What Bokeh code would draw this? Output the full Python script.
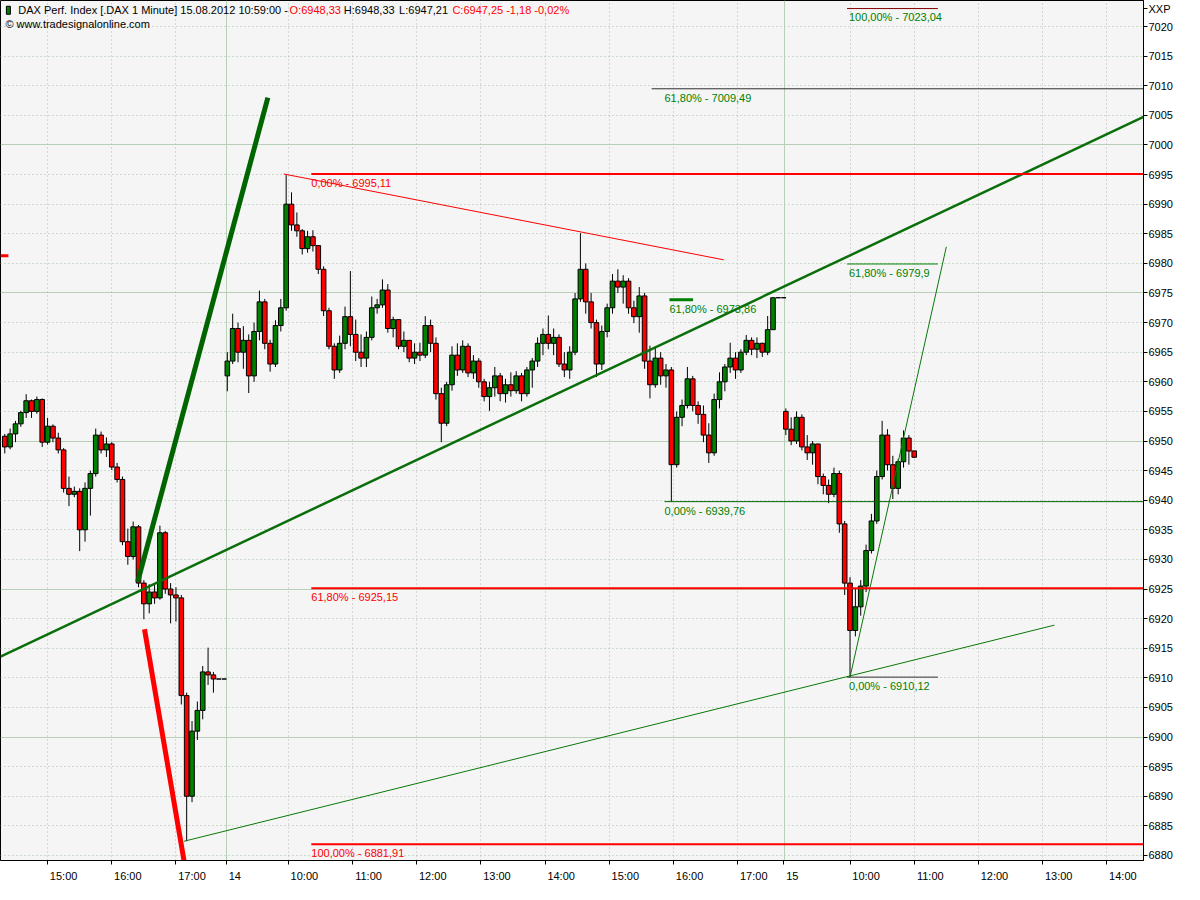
from bokeh.plotting import figure
from bokeh.models import Range1d, LinearAxis, FixedTicker, Grid, Label, ColumnDataSource
from bokeh.embed import file_html
from bokeh.resources import INLINE

# ---------------- data ----------------
# time = trading minutes counted from 13.08.2012 09:00 (a session 09:00-17:45 = 525 min); 5-minute bars
d13_t = list(range(320, 526, 5))
d13_o = [6950.8, 6949.0, 6951.2, 6952.9, 6954.8, 6956.8, 6955.0, 6957.0, 6949.8, 6952.5,
         6950.5, 6948.5, 6942.0, 6941.0, 6941.5, 6935.0, 6942.0, 6944.5, 6951.0, 6948.5,
         6949.5, 6945.6, 6943.5, 6933.0, 6930.5, 6935.5, 6926.0, 6922.5, 6924.5, 6923.5,
         6934.5, 6925.0, 6924.0, 6923.5, 6907.0, 6890.0, 6901.0, 6904.5, 6911.0, 6910.5,
         6909.8, 6909.8]
d13_h = [6951.2, 6952.1, 6953.4, 6955.1, 6957.9, 6957.0, 6957.5, 6957.2, 6953.9, 6952.8,
         6951.4, 6948.8, 6944.0, 6942.3, 6942.0, 6943.0, 6945.0, 6952.1, 6951.6, 6950.6,
         6949.8, 6946.3, 6944.0, 6935.2, 6936.4, 6935.8, 6926.5, 6925.8, 6925.8, 6935.7,
         6934.8, 6926.0, 6925.3, 6924.0, 6907.5, 6902.7, 6906.0, 6912.0, 6915.1, 6911.0,
         6909.8, 6909.8]
d13_l = [6947.9, 6948.6, 6949.8, 6952.4, 6953.9, 6953.9, 6954.6, 6949.0, 6949.4, 6949.8,
         6947.9, 6941.3, 6939.0, 6940.5, 6931.4, 6933.0, 6937.4, 6944.0, 6947.9, 6947.3,
         6945.1, 6943.0, 6932.4, 6929.1, 6930.0, 6925.3, 6919.9, 6920.9, 6922.5, 6923.2,
         6924.2, 6919.2, 6919.5, 6905.5, 6882.4, 6889.0, 6899.5, 6903.0, 6908.8, 6907.5,
         6909.8, 6909.8]
d13_c = [6949.0, 6951.2, 6952.9, 6954.8, 6956.8, 6955.0, 6957.0, 6949.8, 6952.5, 6950.5,
         6948.5, 6942.0, 6941.0, 6941.5, 6935.0, 6942.0, 6944.5, 6951.0, 6948.5, 6949.5,
         6945.6, 6943.5, 6933.0, 6930.5, 6935.5, 6926.0, 6922.5, 6924.5, 6923.5, 6934.5,
         6925.0, 6924.0, 6923.5, 6907.0, 6890.0, 6901.0, 6904.5, 6911.0, 6910.5, 6909.8,
         6909.8, 6909.8]

d14_t = list(range(528, 1049, 5))
d14_o = [6961.0, 6963.5, 6969.0, 6965.0, 6967.0, 6961.0, 6968.5, 6973.5, 6966.5, 6963.0,
         6969.5, 6972.5, 6990.0, 6986.5, 6985.5, 6982.5, 6984.5, 6983.0, 6979.0, 6972.0,
         6966.0, 6962.0, 6966.5, 6971.0, 6968.0, 6965.0, 6964.0, 6967.5, 6972.5, 6973.0,
         6975.5, 6969.0, 6970.5, 6966.0, 6967.0, 6964.0, 6965.0, 6964.5, 6969.5, 6966.5,
         6958.0, 6953.0, 6959.5, 6964.5, 6962.0, 6966.0, 6961.5, 6963.5, 6960.0, 6957.5,
         6959.0, 6961.0, 6958.0, 6959.5, 6958.5, 6961.0, 6958.0, 6962.0, 6963.5, 6966.5,
         6968.0, 6966.5, 6967.5, 6963.0, 6962.0, 6965.0, 6974.0, 6979.0, 6973.5, 6970.0,
         6963.0, 6968.5, 6972.5, 6977.0, 6976.0, 6977.0, 6972.5, 6971.0, 6974.5, 6963.5,
         6959.5, 6964.0, 6961.0, 6962.0, 6946.0, 6954.0, 6956.0, 6960.5, 6956.0, 6954.5,
         6951.0, 6948.0, 6957.0, 6960.0, 6962.5, 6964.0, 6962.0, 6965.0, 6967.0, 6965.5,
         6966.5, 6965.0, 6968.8, 6974.2, 6974.2]
d14_h = [6965.0, 6971.5, 6970.0, 6969.4, 6968.0, 6970.0, 6975.4, 6974.0, 6967.1, 6970.4,
         6974.0, 6994.9, 6992.0, 6988.6, 6985.8, 6985.5, 6985.6, 6983.0, 6979.5, 6972.5,
         6966.5, 6967.8, 6972.7, 6978.7, 6970.5, 6968.0, 6968.5, 6974.4, 6974.0, 6977.3,
         6976.5, 6971.0, 6970.5, 6968.5, 6967.0, 6966.5, 6966.6, 6971.1, 6970.5, 6967.5,
         6959.0, 6960.0, 6966.0, 6966.5, 6967.0, 6966.5, 6964.5, 6964.0, 6960.5, 6960.0,
         6962.5, 6961.5, 6960.5, 6961.6, 6961.8, 6961.5, 6962.5, 6964.0, 6967.5, 6969.0,
         6971.2, 6969.0, 6968.0, 6965.0, 6966.0, 6975.0, 6985.1, 6980.0, 6975.0, 6970.5,
         6969.5, 6973.2, 6978.2, 6979.0, 6978.0, 6977.5, 6973.7, 6976.0, 6975.0, 6966.1,
         6966.0, 6965.0, 6963.0, 6962.5, 6955.0, 6957.0, 6962.5, 6961.0, 6956.7, 6956.0,
         6953.0, 6958.0, 6961.6, 6963.0, 6966.6, 6965.0, 6965.5, 6967.9, 6967.5, 6967.5,
         6966.6, 6971.1, 6974.2, 6974.2, 6974.2]
d14_l = [6958.4, 6963.0, 6963.3, 6962.2, 6958.1, 6960.0, 6967.0, 6965.5, 6961.7, 6962.5,
         6968.5, 6972.0, 6985.5, 6984.5, 6981.5, 6981.8, 6982.0, 6978.2, 6971.1, 6965.5,
         6960.5, 6961.5, 6965.5, 6966.0, 6963.5, 6962.5, 6962.5, 6967.0, 6971.5, 6972.5,
         6968.3, 6967.5, 6965.5, 6965.0, 6963.3, 6963.0, 6963.5, 6964.0, 6965.0, 6957.0,
         6949.8, 6952.5, 6958.5, 6961.0, 6961.5, 6960.8, 6960.5, 6959.0, 6956.7, 6955.1,
         6957.5, 6956.7, 6956.5, 6957.5, 6958.0, 6956.7, 6957.5, 6959.0, 6962.5, 6964.5,
         6965.5, 6964.5, 6962.5, 6960.8, 6960.5, 6964.5, 6973.5, 6971.5, 6969.0, 6960.8,
         6962.0, 6967.5, 6971.5, 6975.0, 6973.2, 6971.5, 6969.9, 6968.3, 6962.2, 6957.2,
         6959.0, 6959.5, 6959.0, 6939.8, 6945.5, 6952.5, 6955.5, 6955.0, 6952.9, 6949.8,
         6946.3, 6947.5, 6955.5, 6958.4, 6961.5, 6960.5, 6961.5, 6964.5, 6964.5, 6964.0,
         6964.2, 6964.5, 6968.8, 6974.2, 6974.2]
d14_c = [6963.5, 6969.0, 6965.0, 6967.0, 6961.0, 6968.5, 6973.5, 6966.5, 6963.0, 6969.5,
         6972.5, 6990.0, 6986.5, 6985.5, 6982.5, 6984.5, 6983.0, 6979.0, 6972.0, 6966.0,
         6962.0, 6966.5, 6971.0, 6968.0, 6965.0, 6964.0, 6967.5, 6972.5, 6973.0, 6975.5,
         6969.0, 6970.5, 6966.0, 6967.0, 6964.0, 6965.0, 6964.5, 6969.5, 6966.5, 6958.0,
         6953.0, 6959.5, 6964.5, 6962.0, 6966.0, 6961.5, 6963.5, 6960.0, 6957.5, 6959.0,
         6961.0, 6958.0, 6959.5, 6958.5, 6961.0, 6958.0, 6962.0, 6963.5, 6966.5, 6968.0,
         6966.5, 6967.5, 6963.0, 6962.0, 6965.0, 6974.0, 6979.0, 6973.5, 6970.0, 6963.0,
         6968.5, 6972.5, 6977.0, 6976.0, 6977.0, 6972.5, 6971.0, 6974.5, 6963.5, 6959.5,
         6964.0, 6961.0, 6962.0, 6946.0, 6954.0, 6956.0, 6960.5, 6956.0, 6954.5, 6951.0,
         6948.0, 6957.0, 6960.0, 6962.5, 6964.0, 6962.0, 6965.0, 6967.0, 6965.5, 6966.5,
         6965.0, 6968.8, 6974.2, 6974.2, 6974.2]

d15_t = list(range(1050, 1171, 5))
d15_o = [6955.0, 6952.0, 6950.0, 6954.0, 6949.0, 6948.0, 6949.5, 6944.0, 6942.5, 6941.0,
         6944.5, 6936.0, 6926.0, 6918.0, 6922.0, 6925.5, 6931.5, 6936.5, 6944.0, 6951.0,
         6946.0, 6942.0, 6946.5, 6950.5, 6948.33]
d15_h = [6955.5, 6954.0, 6955.0, 6954.5, 6951.0, 6950.0, 6949.5, 6944.5, 6943.5, 6945.5,
         6945.0, 6936.5, 6927.0, 6925.0, 6926.5, 6932.5, 6937.7, 6945.0, 6953.4, 6952.0,
         6947.5, 6947.0, 6951.8, 6951.0, 6948.33]
d15_l = [6951.0, 6949.3, 6949.5, 6948.4, 6946.8, 6946.0, 6942.7, 6941.0, 6939.5, 6940.5,
         6934.5, 6924.0, 6910.12, 6917.0, 6920.5, 6924.5, 6931.0, 6936.0, 6943.5, 6945.0,
         6940.2, 6941.0, 6945.5, 6946.0, 6947.21]
d15_c = [6952.0, 6950.0, 6954.0, 6949.0, 6948.0, 6949.5, 6944.0, 6942.5, 6941.0, 6944.5,
         6936.0, 6926.0, 6918.0, 6922.0, 6925.5, 6931.5, 6936.5, 6944.0, 6951.0, 6946.0,
         6942.0, 6946.5, 6950.5, 6948.3, 6947.25]

# price axis ticks / time axis ticks
price_ticks = list(range(6880, 7021, 5))
price_major = [6900, 6925, 6950, 6975, 7000]
time_ticks = [360, 420, 480, 527, 585, 645, 705, 765, 825, 885, 945, 1005, 1048, 1110, 1170, 1230, 1290, 1350]
time_labels = ["15:00", "16:00", "17:00", "14", "10:00", "11:00", "12:00", "13:00", "14:00", "15:00", "16:00",
               "17:00", "15", "10:00", "11:00", "12:00", "13:00", "14:00"]
day_breaks = [527.5, 1049]

# drawn analysis lines (time, price)
thick_green_t = [444.2, 565.9]
thick_green_p = [6926.2, 7008.0]
thick_red_t = [450.6, 488.0]
thick_red_p = [6918.2, 6878.6]
trend_t = [316.0, 1386.0]
trend_p = [6913.6, 7004.9]
support_t = [487.5, 1301.0]
support_p = [6882.4, 6918.9]
resist_t = [580.7, 992.0]
resist_p = [6995.1, 6980.6]
steep_t = [1110.0, 1200.0]
steep_p = [6910.12, 6982.8]
edge_mark_p = 6981.3

# Fibonacci levels
fib_levels = [6995.11, 6925.15, 6881.91, 6939.76, 6973.86, 7009.49, 7023.04, 6979.90, 6910.12]
fib_start = [606.5, 606.5, 606.5, 936.6, 941.2, 924.6, 1107.2, 1107.2, 1107.2]
fib_end = [1390, 1390, 1390, 1390, 963.3, 1390, 1192.1, 1192.1, 1192.1]
fib_text = ["0,00% - 6995,11", "61,80% - 6925,15", "100,00% - 6881,91", "0,00% - 6939,76", "61,80% - 6973,86",
            "61,80% - 7009,49", "100,00% - 7023,04", "61,80% - 6979,9", "0,00% - 6910,12"]
fib_text_t = [606.5, 606.5, 606.5, 936.6, 941.2, 936.6, 1109.0, 1109.0, 1109.0]
fib_text_col = ["#ff0000"] * 3 + ["#008000"] * 6
fib_line_col = ["#ff0000"] * 3 + ["#006400", "#008000", "#303030", "#800000", "#008000", "#303030"]
fib_line_w = [2, 2, 2, 1, 3, 1, 1, 1, 1]

# ---------------- layout helpers (reference pixel -> data) ----------------
W, H = 1184, 884
SX, SY = W / 1200, H / 900


def px2x(px):
    return 585 + (px - 291.7) / 1.0844


def py2y(py):
    return 7024.4 - py / 6.056


FONT = "Liberation Sans"
FRAME_W = 1143
FRAME_H = 864

p = figure(width=W, height=H, output_backend="svg", toolbar_location=None,
           x_range=Range1d(px2x(0), px2x(FRAME_W / SX)), y_range=Range1d(py2y(FRAME_H / SY), py2y(0)),
           x_axis_location=None, y_axis_location=None,
           min_border_left=0, min_border_top=0, min_border_right=W - FRAME_W, min_border_bottom=H - FRAME_H)
p.background_fill_color = "#f5f5f5"
p.border_fill_color = "white"
p.outline_line_color = "black"
p.outline_line_width = 1

# right price axis (with the "XXP" caption as top entry)
yax = LinearAxis(ticker=FixedTicker(ticks=price_ticks + [7023]))
yax.major_label_overrides = {7023: "XXP"}
yax.major_tick_out = 4
yax.major_tick_in = 0
yax.minor_tick_out = 0
yax.minor_tick_in = 0
yax.major_label_standoff = 1
yax.major_label_text_font = FONT
yax.major_label_text_font_size = "11px"
yax.major_label_text_color = "black"
yax.axis_line_color = "black"
p.add_layout(yax, "right")

# bottom time axis: tick marks, then left-aligned labels
xax = LinearAxis(ticker=FixedTicker(ticks=time_ticks))
xax.major_tick_out = 4
xax.major_tick_in = 0
xax.minor_tick_out = 0
xax.minor_tick_in = 0
xax.major_label_text_font_size = "1px"
xax.major_label_overrides = {t: " " for t in time_ticks}
xax.major_label_standoff = 0
xax.axis_line_color = "black"
p.add_layout(xax, "below")

label_pos = [t + (8 if len(lab) == 2 else 15) for t, lab in zip(time_ticks, time_labels)]
xlab = LinearAxis(ticker=FixedTicker(ticks=label_pos))
xlab.major_label_overrides = {pos: lab for pos, lab in zip(label_pos, time_labels)}
xlab.major_tick_out = 0
xlab.major_tick_in = 0
xlab.minor_tick_out = 0
xlab.minor_tick_in = 0
xlab.axis_line_color = None
xlab.major_label_standoff = 1
xlab.major_label_text_font = FONT
xlab.major_label_text_font_size = "11px"
xlab.major_label_text_color = "black"
p.add_layout(xlab, "below")

# grids
p.grid.visible = False
g1 = Grid(dimension=1, ticker=FixedTicker(ticks=[v for v in price_ticks if v not in price_major]),
          grid_line_color="#a0c0a0", grid_line_dash="1 3", grid_line_width=1)
g2 = Grid(dimension=1, ticker=FixedTicker(ticks=price_major), grid_line_color="#b8d0b8", grid_line_width=1)
hour_ticks = [t for t in time_ticks if t not in (527, 1048)]
g3 = Grid(dimension=0, ticker=FixedTicker(ticks=hour_ticks), grid_line_color="#b4b4b4", grid_line_dash="1 3",
          grid_line_width=1)
g4 = Grid(dimension=0, ticker=FixedTicker(ticks=day_breaks), grid_line_color="#b8d0b8", grid_line_width=1)
for g in (g1, g2, g3, g4):
    p.add_layout(g)

# candles
bar_t = d13_t + d14_t + d15_t
bar_o = d13_o + d14_o + d15_o
bar_h = d13_h + d14_h + d15_h
bar_l = d13_l + d14_l + d15_l
bar_c = d13_c + d14_c + d15_c
colors = ["#008000" if c >= o else "#ff0000" for o, c in zip(bar_o, bar_c)]
src = ColumnDataSource(dict(t=bar_t, o=bar_o, h=bar_h, l=bar_l, c=bar_c,
                            top=[max(o, c) for o, c in zip(bar_o, bar_c)],
                            bot=[min(o, c) for o, c in zip(bar_o, bar_c)], col=colors))
p.segment(x0="t", y0="h", x1="t", y1="l", source=src, line_color="black", line_width=1)
p.vbar(x="t", width=4.3, top="top", bottom="bot", source=src, fill_color="col", line_color="black", line_width=1)

# analysis lines
p.line(trend_t, trend_p, line_color="#0a6e0a", line_width=2.5)
p.line(support_t, support_p, line_color="#0a780a", line_width=1)
p.line(steep_t, steep_p, line_color="#0a780a", line_width=1)
p.line(resist_t, resist_p, line_color="#ff0000", line_width=1)
p.line(thick_green_t, thick_green_p, line_color="#006400", line_width=5)
p.line(thick_red_t, thick_red_p, line_color="#ff0000", line_width=5)
p.line([px2x(0), px2x(8)], [edge_mark_p, edge_mark_p], line_color="#ff0000", line_width=3)

for lvl, t0, t1, txt, tt, tc, lc, lw in zip(fib_levels, fib_start, fib_end, fib_text, fib_text_t,
                                            fib_text_col, fib_line_col, fib_line_w):
    p.line([t0, t1], [lvl, lvl], line_color=lc, line_width=lw)
    p.add_layout(Label(x=tt, y=lvl - 3 / 6.056, text=txt, text_font=FONT, text_font_size="11px",
                       text_baseline="top", text_align="left", text_color=tc))

# header texts
title_parts = [(18, "DAX Perf. Index [.DAX  1 Minute] 15.08.2012 10:59:00 -", "black"),
               (293, "O:6948,33", "#ff0000"), (348, "H:6948,33", "black"), (404, "L:6947,21", "black"),
               (458, "C:6947,25 -1,18 -0,02%", "#ff0000")]
for px, txt, col in title_parts:
    p.add_layout(Label(x=px2x(px), y=py2y(4), text=txt, text_font=FONT, text_font_size="11px",
                       text_baseline="top", text_align="left", text_color=col))
p.add_layout(Label(x=px2x(5), y=py2y(18), text="© www.tradesignalonline.com", text_font=FONT,
                   text_font_size="11px", text_baseline="top", text_align="left", text_color="black"))
p.rect(x=[px2x(8)], y=[py2y(10)], width=4, height=8, width_units="screen", height_units="screen",
       fill_color="#008000", line_color="black")

open("out.html", "w").write(file_html(p, INLINE))
